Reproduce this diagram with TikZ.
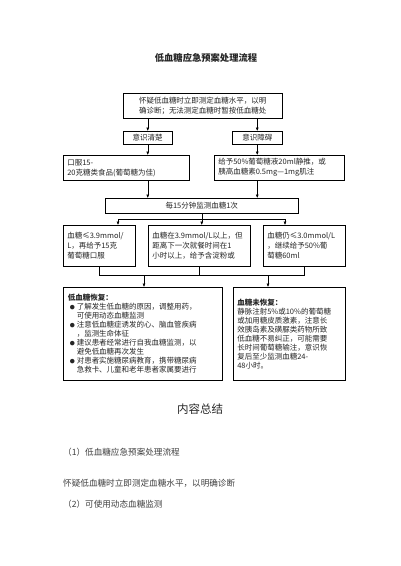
\documentclass[tikz,border=0pt]{standalone}
\usepackage{fontspec}
\newfontfamily\cjk{Noto Sans CJK SC}
\usetikzlibrary{arrows.meta}
\begin{document}
\begin{tikzpicture}[x=1pt,y=-1pt]
\tikzset{
 box/.style={draw=black, line width=0.5pt, anchor=north west, inner xsep=4pt, inner ysep=0pt, font=\cjk\fontsize{7.5}{10}\selectfont, text=black!85},
 arr/.style={line width=0.5pt, -{Latex[length=3.5pt,width=3pt]}},
 ln/.style={line width=0.5pt},
 plain/.style={font=\cjk\fontsize{8.6}{10}\selectfont, text=black!75, inner sep=0pt, anchor=west},
}
\useasboundingbox (0,0) rectangle (400,566);
\fill[white] (0,0) rectangle (400,566);

\node[font=\cjk\bfseries\fontsize{9.3}{10}\selectfont, text=black!85] (title) at (206,58) {低血糖应急预案处理流程};

\node[box, minimum width=159pt, minimum height=25pt, text width=151pt, align=center] (T) at (123,93)
 {怀疑低血糖时立即测定血糖水平，以明\\确诊断；无法测定血糖时暂按低血糖处};
\node[box, minimum width=49pt, minimum height=13pt, text width=41pt, align=center] (A) at (123,131) {意识清楚};
\node[box, minimum width=50pt, minimum height=13pt, text width=42pt, align=center] (B) at (232,131) {意识障碍};
\node[box, minimum width=126pt, minimum height=25pt, text width=118pt, align=left] (C) at (63,155)
 {口服15-\\20克糖类食品(葡萄糖为佳)};
\node[box, minimum width=130pt, minimum height=25pt, text width=122pt, align=left] (D) at (214,155)
 {给予50\%葡萄糖液20ml静推，或\\胰高血糖素0.5mg—1mg肌注};
\node[box, minimum width=193pt, minimum height=15pt, text width=185pt, align=center] (E) at (105,198) {每15分钟监测血糖1次};

\node[box, minimum width=72pt, minimum height=41pt, text width=64pt, align=left] (F1) at (63,225)
 {血糖≤3.9mmol/\\L，再给予15克\\葡萄糖口服};
\node[box, minimum width=102pt, minimum height=41pt, text width=94pt, align=left] (F2) at (148,225)
 {血糖在3.9mmol/L以上，但\\距离下一次就餐时间在1\\小时以上，给予含淀粉或};
\node[box, minimum width=82pt, minimum height=41pt, text width=74pt, align=left] (F3) at (263,225)
 {血糖仍≤3.0mmol/L\\，继续给予50\%葡\\萄糖60ml};

\node[box, minimum width=159pt, minimum height=93pt, text width=150pt, inner xsep=4.5pt, align=left, font=\cjk\fontsize{7.5}{9}\selectfont] (G1) at (63,287)
 {{\bfseries 低血糖恢复：}\\
 \makebox[9pt][c]{\fontsize{5}{5}\selectfont ●}了解发生低血糖的原因，调整用药，\\
 \hspace*{9pt}可使用动态血糖监测\\
 \makebox[9pt][c]{\fontsize{5}{5}\selectfont ●}注意低血糖症诱发的心、脑血管疾病\\
 \hspace*{9pt}，监测生命体征\\
 \makebox[9pt][c]{\fontsize{5}{5}\selectfont ●}建议患者经常进行自我血糖监测，以\\
 \hspace*{9pt}避免低血糖再次发生\\
 \makebox[9pt][c]{\fontsize{5}{5}\selectfont ●}对患者实施糖尿病教育，携带糖尿病\\
 \hspace*{9pt}急救卡、儿童和老年患者家属要进行};
\node[box, minimum width=112pt, minimum height=93pt, text width=104pt, align=left, font=\cjk\fontsize{7.5}{9}\selectfont] (G2) at (233,287)
 {{\bfseries 血糖未恢复：}\\
 静脉注射5\%或10\%的葡萄糖\\
 或加用糖皮质激素，注意长\\
 效胰岛素及磺脲类药物所致\\
 低血糖不易纠正，可能需要\\
 长时间葡萄糖输注，意识恢\\
 复后至少监测血糖24-\\
 48小时。\\[9pt]};

% connectors
\draw[arr] (T.south -| A.north) -- (A.north);
\draw[arr] (T.south -| B.north) -- (B.north);
\draw[arr] (A.south) -- (A.south |- C.north);
\draw[arr] (B.south) -- (B.south |- D.north);
\draw[arr] (A.south |- C.south) -- (A.south |- E.north);
\draw[arr] (B.south |- D.south) -- (B.south |- E.north);
\draw[arr] (E.south) -- (E.south |- F2.north);
\coordinate (j1) at (118,219);
\coordinate (j2) at (285,219);
\draw[ln] (E.south |- j1) -- (j1);
\draw[ln] (E.south |- j2) -- (j2);
\draw[arr] (j1) -- (j1 |- F1.north);
\draw[arr] (j2) -- (j2 |- F3.north);
\coordinate (m1) at (144,275);
\coordinate (m2) at (268,275);
\draw[ln] (F1.south) -- (F1.south |- m1) -- (F3.south |- m1) -- (F3.south);
\draw[ln] (F2.south) -- (F2.south |- m1);
\draw[arr] (m1) -- (m1 |- G1.north);
\draw[arr] (m2) -- (m2 |- G2.north);

% summary
\node[font=\cjk\fontsize{11.5}{12}\selectfont, text=black!85] (sum) at (200,409) {内容总结};
\node[plain] (s1) at (63,452) {（1）低血糖应急预案处理流程};
\node[plain] (s2) at (63,483) {怀疑低血糖时立即测定血糖水平，以明确诊断};
\node[plain] (s3) at (63,504) {（2）可使用动态血糖监测};
\end{tikzpicture}
\end{document}
